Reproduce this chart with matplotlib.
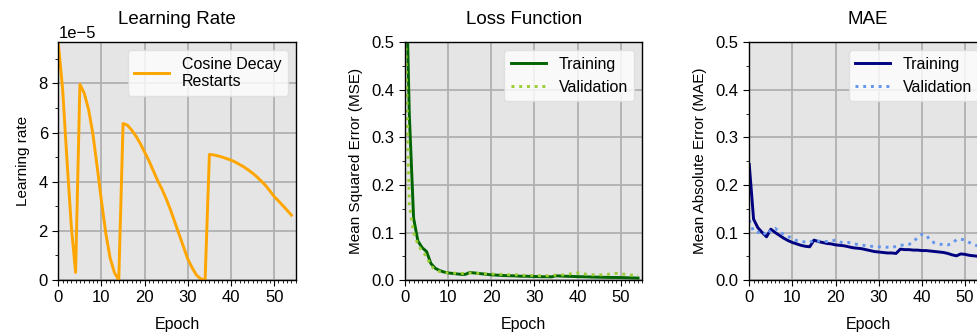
import matplotlib
matplotlib.use('Agg')
import matplotlib.pyplot as plt
import numpy as np
from matplotlib.ticker import MultipleLocator, AutoMinorLocator

plt.rcParams['font.family'] = ['Liberation Sans', 'DejaVu Sans']

epochs = np.arange(55)

# learning rate per epoch, in units of 1e-5
lr_e5 = [9.63, 7.75, 4.9, 2.2, 0.31,
         7.96, 7.6, 6.95, 5.95, 4.6, 3.2, 1.9, 0.9, 0.3, 0.0,
         6.37, 6.3, 6.1, 5.85, 5.55, 5.2, 4.85, 4.45, 4.05, 3.7,
         3.3, 2.85, 2.35, 1.85, 1.35, 0.85, 0.5, 0.2, 0.05, 0.0,
         5.11, 5.09, 5.05, 5.0, 4.94, 4.88, 4.8, 4.7, 4.6, 4.48,
         4.35, 4.2, 4.03, 3.85, 3.63, 3.4, 3.22, 3.03, 2.84, 2.64]

mse_train = [0.75, 0.35, 0.13, 0.082, 0.068, 0.06, 0.035, 0.025, 0.02, 0.017,
             0.015, 0.014, 0.013, 0.012, 0.012, 0.016, 0.015, 0.014, 0.013, 0.012,
             0.011, 0.0105, 0.01, 0.0095, 0.009, 0.009, 0.0085, 0.008, 0.008, 0.0078,
             0.0075, 0.0072, 0.007, 0.007, 0.0068, 0.009, 0.0085, 0.008, 0.0078, 0.0075,
             0.0072, 0.007, 0.0068, 0.0065, 0.0062, 0.006, 0.0058, 0.0056, 0.0055, 0.0055,
             0.0053, 0.005, 0.0048, 0.0045, 0.0042]
mse_val = [0.57, 0.16, 0.1, 0.075, 0.06, 0.05, 0.03, 0.022, 0.018, 0.016,
           0.015, 0.015, 0.014, 0.014, 0.014, 0.015, 0.015, 0.014, 0.014, 0.013,
           0.013, 0.012, 0.012, 0.012, 0.011, 0.011, 0.011, 0.01, 0.01, 0.01,
           0.0095, 0.0092, 0.009, 0.009, 0.0095, 0.0105, 0.0105, 0.011, 0.012, 0.015,
           0.015, 0.015, 0.012, 0.011, 0.011, 0.011, 0.011, 0.012, 0.014, 0.014,
           0.013, 0.012, 0.011, 0.01, 0.01]

mae_train = [0.243, 0.128, 0.11, 0.1, 0.091, 0.107, 0.1, 0.094, 0.088, 0.083,
             0.079, 0.076, 0.073, 0.071, 0.07, 0.084, 0.081, 0.079, 0.077, 0.076,
             0.074, 0.073, 0.072, 0.07, 0.068, 0.067, 0.066, 0.064, 0.062, 0.06,
             0.059, 0.058, 0.057, 0.057, 0.056, 0.065, 0.064, 0.064, 0.063, 0.063,
             0.062, 0.062, 0.061, 0.06, 0.059, 0.058, 0.056, 0.053, 0.051, 0.055,
             0.054, 0.052, 0.051, 0.05, 0.05]
mae_val = [0.126, 0.102, 0.1, 0.103, 0.094, 0.105, 0.109, 0.101, 0.096, 0.092,
           0.087, 0.083, 0.081, 0.08, 0.079, 0.084, 0.082, 0.081, 0.081, 0.082,
           0.084, 0.08, 0.078, 0.079, 0.077, 0.075, 0.074, 0.072, 0.071, 0.071,
           0.07, 0.07, 0.069, 0.068, 0.071, 0.073, 0.074, 0.075, 0.08, 0.09,
           0.096, 0.095, 0.082, 0.078, 0.076, 0.074, 0.074, 0.077, 0.085, 0.086,
           0.084, 0.079, 0.074, 0.072, 0.073]

fig = plt.figure(figsize=(9.77, 3.35), dpi=100)
ax1 = fig.add_axes([0.0597, 0.164, 0.243, 0.7096])
ax2 = fig.add_axes([0.4145, 0.164, 0.243, 0.7096])
ax3 = fig.add_axes([0.7669, 0.164, 0.243, 0.7096])


def style(ax, title, ylabel):
    ax.set_facecolor('#e5e5e5')
    ax.grid(True, color='#b0b0b0', lw=1.3)
    ax.set_axisbelow(True)
    ax.set_title(title, fontsize=13.5, pad=13)
    ax.set_xlabel('Epoch', fontsize=11.5, labelpad=8)
    ax.set_ylabel(ylabel, fontsize=11, labelpad=6)
    ax.set_xlim(0, 55)
    ax.xaxis.set_major_locator(MultipleLocator(10))
    ax.xaxis.set_minor_locator(MultipleLocator(1))
    ax.yaxis.set_minor_locator(AutoMinorLocator(2))
    ax.tick_params(which='major', direction='out', length=4, labelsize=12)
    ax.tick_params(which='minor', direction='out', length=2)
    for s in ax.spines.values():
        s.set_color('black')
        s.set_linewidth(1.0)


def add_legend(ax):
    ax.legend(loc='upper right', fontsize=11.5, facecolor='white', framealpha=0.8,
              edgecolor='#dddddd', handlelength=2.2)


ax1.plot(epochs, np.array(lr_e5) * 1e-5, color='orange', lw=2.1, label='Cosine Decay\nRestarts')
style(ax1, 'Learning Rate', 'Learning rate')
ax1.set_ylim(0, 9.67e-5)
ax1.yaxis.get_offset_text().set_fontsize(12)
add_legend(ax1)

ax2.plot(epochs, mse_train, color='darkgreen', lw=2.1, label='Training')
ax2.plot(epochs, mse_val, color='yellowgreen', lw=2.1, ls=':', label='Validation')
style(ax2, 'Loss Function', 'Mean Squared Error (MSE)')
ax2.set_ylim(0, 0.5)
add_legend(ax2)

ax3.plot(epochs, mae_train, color='navy', lw=2.1, label='Training')
ax3.plot(epochs, mae_val, color='cornflowerblue', lw=2.1, ls=':', label='Validation')
style(ax3, 'MAE', 'Mean Absolute Error (MAE)')
ax3.set_ylim(0, 0.5)
add_legend(ax3)

fig.savefig('out.png', dpi=100)
